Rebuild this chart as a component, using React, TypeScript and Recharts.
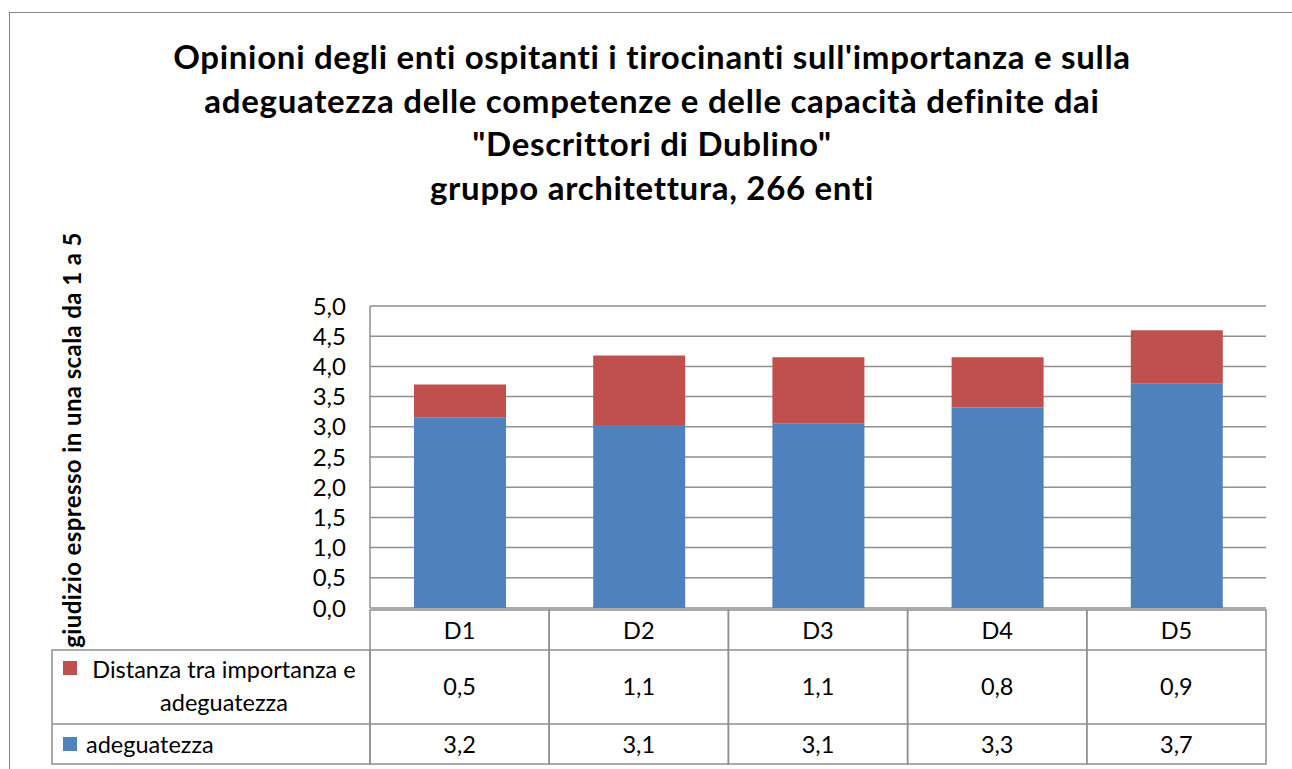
import { BarChart, Bar, XAxis, YAxis, CartesianGrid } from 'recharts';

const categories = ['D1', 'D2', 'D3', 'D4', 'D5'];
const adeguatezza = [3.16, 3.03, 3.06, 3.32, 3.72];
const distanza = [0.54, 1.15, 1.09, 0.83, 0.88];
const adeguatezzaLabels = ['3,2', '3,1', '3,1', '3,3', '3,7'];
const distanzaLabels = ['0,5', '1,1', '1,1', '0,8', '0,9'];
const yTicks = [0, 0.5, 1, 1.5, 2, 2.5, 3, 3.5, 4, 4.5, 5];

const titleLines = [
  "Opinioni degli enti ospitanti i tirocinanti sull'importanza e sulla",
  'adeguatezza delle competenze e delle capacità definite dai',
  '"Descrittori di Dublino"',
  'gruppo architettura, 266 enti',
];

const data = categories.map((c, i) => ({
  name: c,
  adeguatezza: adeguatezza[i],
  distanza: distanza[i],
}));

const W = 1292;
const H = 769;
const PLOT_LEFT = 370;
const PLOT_RIGHT = 1266;
const BAND = (PLOT_RIGHT - PLOT_LEFT) / categories.length;
const BLUE = '#4F81BD';
const RED = '#C0504D';
const GRID = '#8f8f8f';
const FONT = 'Lato, Carlito, sans-serif';

// data table under the plot, one column per category tick
const TableTick = (props: any) => {
  const { x, y, payload } = props;
  const i = payload?.index ?? props.index ?? 0;
  const left = x - BAND / 2;
  const top = y + 2;
  const r1 = top + 40;
  const r2 = r1 + 74;
  const r3 = r2 + 40;
  const txt = { fontFamily: FONT, fontSize: 23.5, fill: '#000' };
  return (
    <g>
      <rect x={left} y={top} width={BAND} height={r3 - top} fill="none" stroke={GRID} strokeWidth={1.5} />
      <line x1={left} x2={left + BAND} y1={r1} y2={r1} stroke={GRID} strokeWidth={1.5} />
      <line x1={left} x2={left + BAND} y1={r2} y2={r2} stroke={GRID} strokeWidth={1.5} />
      <text x={x} y={top + 29} textAnchor="middle" {...txt}>{payload.value}</text>
      <text x={x} y={r1 + 45} textAnchor="middle" {...txt}>{distanzaLabels[i]}</text>
      <text x={x} y={r2 + 29} textAnchor="middle" {...txt}>{adeguatezzaLabels[i]}</text>
      {i === 0 && (
        <g>
          <rect x={52} y={r1} width={PLOT_LEFT - 52} height={r3 - r1} fill="none" stroke={GRID} strokeWidth={1.5} />
          <line x1={52} x2={PLOT_LEFT} y1={r2} y2={r2} stroke={GRID} strokeWidth={1.5} />
          <rect x={63} y={r1 + 11} width={14} height={14} fill={RED} />
          <text x={224} y={r1 + 28} textAnchor="middle" {...txt}>Distanza tra importanza e</text>
          <text x={224} y={r1 + 61} textAnchor="middle" {...txt}>adeguatezza</text>
          <rect x={63} y={r2 + 13} width={14} height={14} fill={BLUE} />
          <text x={86} y={r2 + 29} textAnchor="start" {...txt}>adeguatezza</text>
        </g>
      )}
    </g>
  );
};

export default function App() {
  return (
    <div style={{ position: 'absolute', left: 0, top: 0, width: W, height: H, background: '#fff', overflow: 'hidden' }}>
      <BarChart
        width={W}
        height={H}
        data={data}
        margin={{ top: 306, right: W - PLOT_RIGHT, bottom: 131, left: PLOT_LEFT - 60 }}
      >
        <CartesianGrid vertical={false} stroke={GRID} strokeWidth={1.5} />
        <XAxis
          dataKey="name"
          height={30}
          axisLine={false}
          tickLine={false}
          tickSize={0}
          tickMargin={0}
          interval={0}
          tick={<TableTick />}
        />
        <YAxis
          width={60}
          domain={[0, 5]}
          ticks={yTicks}
          interval={0}
          axisLine={{ stroke: GRID, strokeWidth: 1.5 }}
          tickLine={false}
          tickSize={0}
          tickMargin={24}
          tick={{ fontFamily: FONT, fontSize: 24, fill: '#000' }}
          tickFormatter={(v: number) => v.toFixed(1).replace('.', ',')}
        />
        <Bar dataKey="adeguatezza" stackId="a" fill={BLUE} barSize={92} isAnimationActive={false} />
        <Bar dataKey="distanza" stackId="a" fill={RED} barSize={92} isAnimationActive={false} />
      </BarChart>
      <svg width={W} height={H} style={{ position: 'absolute', left: 0, top: 0, pointerEvents: 'none' }}>
        <rect x={9.5} y={12.5} width={1300} height={800} fill="none" stroke="#888" strokeWidth={1} />
        {titleLines.map((t, i) => (
          <text
            key={i}
            x={652}
            y={69 + i * 43.5}
            textAnchor="middle"
            fontFamily={FONT}
            fontWeight="bold"
            fontSize={33}
            letterSpacing={0.7}
            fill="#000"
          >
            {t}
          </text>
        ))}
        <text
          transform="translate(81, 440) rotate(-90)"
          textAnchor="middle"
          fontFamily={FONT}
          fontWeight="bold"
          fontSize={24}
          letterSpacing={0.4}
          fill="#000"
        >
          giudizio espresso in una scala da 1 a 5
        </text>
      </svg>
    </div>
  );
}
